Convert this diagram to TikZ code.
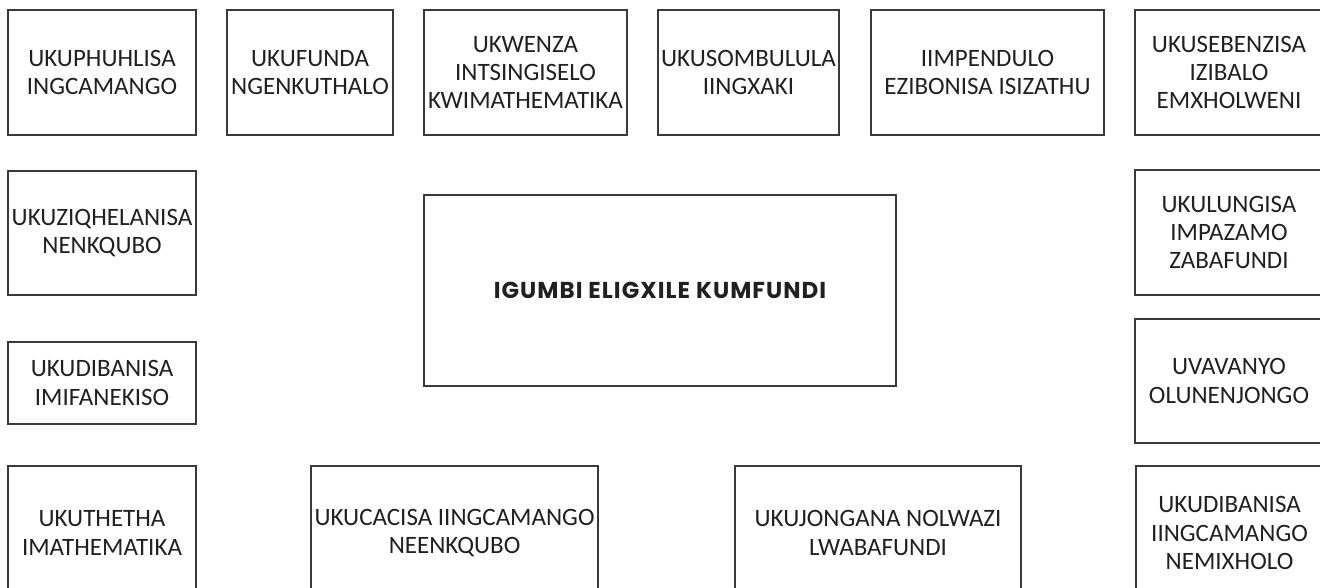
\documentclass[tikz,border=0pt]{standalone}
\usepackage{fontspec}
\setmainfont{Carlito}
\newfontfamily\titlefont[LetterSpace=4.5]{Poppins}
\definecolor{boxline}{HTML}{3A3A3A}
\definecolor{ink}{HTML}{231F20}
\begin{document}
\begin{tikzpicture}[x=1pt,y=-1pt,
  topic/.style={draw=boxline, line width=1.2pt, rectangle, inner sep=0pt, align=center, text=ink,
    font=\fontsize{25}{28.4}\selectfont},
  hub/.style={topic, font=\titlefont\bfseries\fontsize{23}{26}\selectfont}]
\useasboundingbox (0,0) rectangle (1320,587);
% helper: node at centre with size
\newcommand{\bx}[6]{\node[#1, minimum width=#4-#2, minimum height=#5-#3] (#6) at ({(#2+#4)/2},{(#3+#5)/2})}
% top row
\bx{topic}{8}{10}{196}{135}{a1} {UKUPHUHLISA\\INGCAMANGO};
\bx{topic}{227}{10}{393}{135}{a2} {UKUFUNDA\\NGENKUTHALO};
\bx{topic}{424}{10}{627}{135}{a3} {UKWENZA\\INTSINGISELO\\KWIMATHEMATIKA};
\bx{topic}{658}{10}{839}{135}{a4} {UKUSOMBULULA\\IINGXAKI};
\bx{topic}{871}{10}{1104}{135}{a5} {IIMPENDULO\\EZIBONISA ISIZATHU};
\bx{topic}{1135}{10}{1323}{135}{a6} {UKUSEBENZISA\\IZIBALO\\EMXHOLWENI};
% left column
\bx{topic}{8}{171}{196}{295}{b1} {UKUZIQHELANISA\\NENKQUBO};
\bx{topic}{8}{342}{196}{424}{b2} {UKUDIBANISA\\IMIFANEKISO};
% centre
\bx{hub}{424}{195}{896}{386}{hub} {IGUMBI ELIGXILE KUMFUNDI};
% right column
\bx{topic}{1135}{170}{1323}{295}{c1} {UKULUNGISA\\IMPAZAMO\\ZABAFUNDI};
\bx{topic}{1135}{319}{1323}{443}{c2} {UVAVANYO\\OLUNENJONGO};
% bottom row
\bx{topic}{8}{466}{196}{600}{d1} {UKUTHETHA\\IMATHEMATIKA};
\bx{topic}{311}{466}{598}{600}{d2} {UKUCACISA IINGCAMANGO\\NEENKQUBO};
\bx{topic}{735}{466}{1021}{600}{d3} {UKUJONGANA NOLWAZI\\LWABAFUNDI};
\bx{topic}{1136}{466}{1323}{600}{d4} {UKUDIBANISA\\IINGCAMANGO\\NEMIXHOLO};
\end{tikzpicture}
\end{document}
